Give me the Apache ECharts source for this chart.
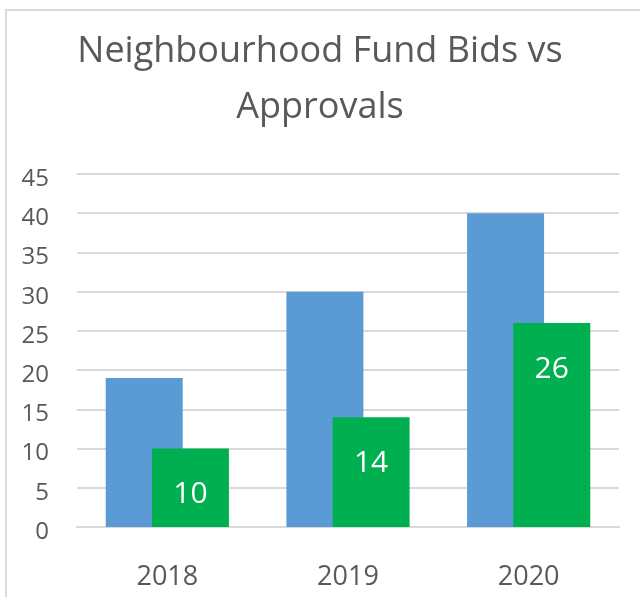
<!DOCTYPE html>
<html>
<head>
<meta charset="utf-8">
<script src="https://cdn.jsdelivr.net/npm/echarts@6/dist/echarts.min.js"></script>
<style>
html, body { margin: 0; padding: 0; background: #fff; }
#main { width: 640px; height: 597px; }
</style>
</head>
<body>
<div id="main"></div>
<script>
var years = ['2018', '2019', '2020'];
var bids = [19, 30, 40];
var approvals = [10, 14, 26];

var chart = echarts.init(document.getElementById('main'));
var option = {
	animation : false,
	textStyle : { fontFamily : 'Open Sans' },
	graphic : [ {
		type : 'rect',
		shape : { x : 6, y : 10, width : 700, height : 700 },
		style : { fill : 'none', stroke : '#d9d9d9', lineWidth : 2 },
		silent : true
	} ],
	title : {
		text : 'Neighbourhood Fund Bids vs\nApprovals',
		left : 'center',
		top : 24,
		padding : 0,
		textStyle : {
			fontFamily : 'Open Sans',
			fontSize : 36,
			fontWeight : 'normal',
			color : '#595959',
			lineHeight : 56
		}
	},
	grid : { left : 77, right : 21, top : 174, bottom : 70 },
	xAxis : {
		type : 'category',
		data : years,
		axisLine : { lineStyle : { color : '#d9d9d9', width : 2 } },
		axisTick : { show : false },
		axisLabel : { color : '#595959', fontSize : 27, margin : 37, fontFamily : 'Open Sans' }
	},
	yAxis : {
		type : 'value',
		min : 0,
		max : 45,
		interval : 5,
		axisLine : { show : false },
		axisTick : { show : false },
		splitLine : { lineStyle : { color : '#d9d9d9', width : 2 } },
		axisLabel : {
			color : '#595959',
			fontSize : 24,
			margin : 28,
			verticalAlign : 'top',
			lineHeight : 10,
			fontFamily : 'Open Sans'
		}
	},
	series : [ {
		name : 'Bids',
		type : 'bar',
		data : bids,
		barWidth : 77,
		barGap : '-40%',
		itemStyle : { color : '#5b9bd5' }
	}, {
		name : 'Approvals',
		type : 'bar',
		data : approvals,
		barWidth : 77,
		barGap : '-40%',
		itemStyle : { color : '#00b050' },
		label : {
			show : true,
			position : 'insideTop',
			distance : 31,
			color : '#fff',
			fontSize : 30,
			fontFamily : 'Open Sans'
		}
	} ]
};
chart.setOption(option);
</script>
</body>
</html>
